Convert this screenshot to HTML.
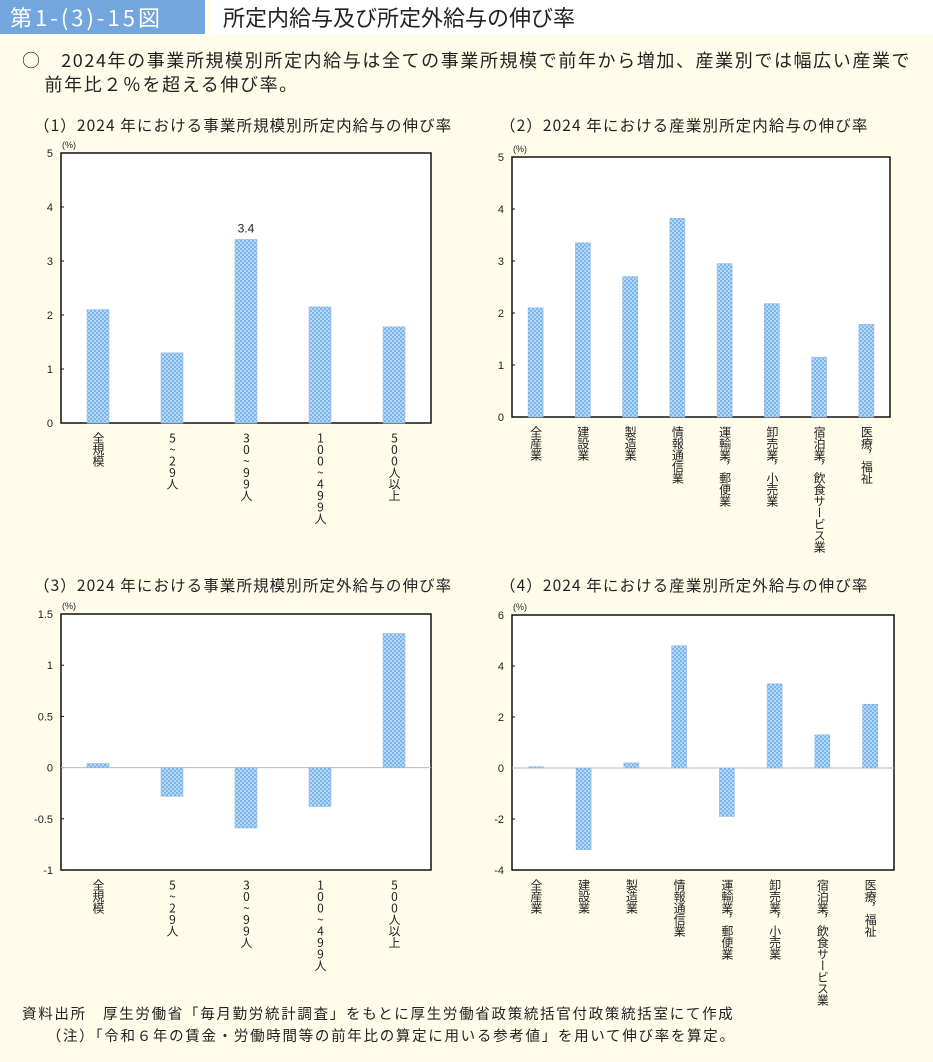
<!DOCTYPE html>
<html><head><meta charset="utf-8">
<style>
body{margin:0;width:933px;height:1062px;background:#fffdea;font-family:"Noto Sans CJK JP","Liberation Sans",sans-serif;color:#222;position:relative;overflow:hidden}
.hdr1{position:absolute;left:0;top:0;width:205px;height:34px;background:#72a6dc;color:#fff;font-size:22px;line-height:34px;padding-left:10px;box-sizing:border-box;letter-spacing:3px}
.hdr2{position:absolute;left:211px;top:0;width:722px;height:34px;background:#fff;font-size:22px;line-height:34px;padding-left:12px;box-sizing:border-box;color:#222}
.lead{position:absolute;left:22px;top:48px;font-size:18px;line-height:24px;white-space:nowrap;letter-spacing:1.6px}
.ct{position:absolute;font-size:15.5px;white-space:nowrap;letter-spacing:1.1px}
.src{position:absolute;left:22px;top:1003px;font-size:14.5px;line-height:22px;white-space:nowrap;letter-spacing:1.7px}
.xl{position:absolute;writing-mode:vertical-rl;text-orientation:upright;font-size:12px;line-height:14px;width:14px;margin-left:-7px;letter-spacing:-0.5px}
svg{position:absolute;left:0;top:0}
</style></head><body>
<div class="hdr1">第1-(3)-15図</div>
<div class="hdr2">所定内給与及び所定外給与の伸び率</div>
<div class="lead">○　2024年の事業所規模別所定内給与は全ての事業所規模で前年から増加、産業別では幅広い産業で<br>&nbsp;&nbsp;&nbsp;&nbsp;前年比２％を超える伸び率。</div>
<div class="ct" style="left:34px;top:114px">（1）2024 年における事業所規模別所定内給与の伸び率</div>
<div class="ct" style="left:500px;top:114px">（2）2024 年における産業別所定内給与の伸び率</div>
<div class="ct" style="left:34px;top:574px">（3）2024 年における事業所規模別所定外給与の伸び率</div>
<div class="ct" style="left:500px;top:574px">（4）2024 年における産業別所定外給与の伸び率</div>
<div class="src">資料出所　厚生労働省「毎月勤労統計調査」をもとに厚生労働省政策統括官付政策統括室にて作成<br>&nbsp;&nbsp;&nbsp;&nbsp;&nbsp;（注）「令和６年の賃金・労働時間等の前年比の算定に用いる参考値」を用いて伸び率を算定。</div>
<svg id="svg" width="933" height="1062" xmlns="http://www.w3.org/2000/svg">
<defs><pattern id="pat" width="4" height="4" patternUnits="userSpaceOnUse"><rect width="4" height="4" fill="#b4d8f6"/><circle cx="1" cy="1" r="0.85" fill="#4a98e6"/><circle cx="3" cy="3" r="0.85" fill="#4a98e6"/></pattern></defs>
</svg>
<script>
const sizeCats=["全規模","5~29人","30~99人","100~499人","500人以上"];
const indCats=["全産業","建設業","製造業","情報通信業","運輸業，郵便業","卸売業，小売業","宿泊業，飲食サービス業","医療，福祉"];
const v1=[2.1,1.3,3.4,2.15,1.78];
const v2=[2.1,3.35,2.7,3.82,2.95,2.18,1.15,1.78];
const v3=[0.04,-0.28,-0.59,-0.38,1.31];
const v4=[0.05,-3.2,0.2,4.8,-1.9,3.3,1.3,2.5];
const t1=[0,1,2,3,4,5];
const t3=[-1,-0.5,0,0.5,1,1.5];
const t4=[-4,-2,0,2,4,6];
const NS="http://www.w3.org/2000/svg";
const svg=document.getElementById('svg');
function mk(tag,a){const e=document.createElementNS(NS,tag);for(const k in a)e.setAttribute(k,a[k]);svg.appendChild(e);return e;}
function chart(id,cats,vals,ticks,L,R,T,B,bw,label){
  const mn=ticks[0],mx=ticks[ticks.length-1];
  const y=v=>B-(v-mn)/(mx-mn)*(B-T);
  const n=cats.length,step=(R-L)/n;
  const x=i=>L+step*(i+0.5);
  let r=mk('rect',{x:L,y:T,width:R-L,height:B-T,fill:'#fff',stroke:'#111','stroke-width':1.5});
  
  ticks.forEach(t=>{let tx=mk('text',{x:L-8,y:y(t)+4,'text-anchor':'end','font-size':11,fill:'#222','font-family':'Liberation Sans'});tx.textContent=t;
    
    mk('line',{x1:L,x2:L+3,y1:y(t),y2:y(t),stroke:'#111'});});
  let u=mk('text',{x:L+1,y:T-5,'font-size':9,fill:'#222','font-family':'Liberation Sans'});u.textContent='(%)';
  
  if(mn<0){let zl=mk('line',{x1:L,x2:R,y1:y(0),y2:y(0),stroke:'#bbb','stroke-width':1});}
  vals.forEach((v,i)=>{const y0=y(0),y1=y(v);
    let b=mk('rect',{x:x(i)-bw/2,y:Math.min(y0,y1),width:bw,height:Math.abs(y1-y0),fill:'url(#pat)',stroke:'#9ab8d6','stroke-width':0.6});
    
    const d=document.createElement('div');d.className='xl';d.style.left=x(i)+'px';d.style.top=(B+9)+'px';
    d.textContent=cats[i];
    
    
    document.body.appendChild(d);
    if(label===i){let lt=mk('text',{x:x(i),y:y1-7,'text-anchor':'middle','font-size':12,fill:'#222','font-family':'Liberation Sans'});lt.textContent=v;
      }
  });
}
chart('chart1',sizeCats,v1,t1,61,431,153,423,22,2);
chart('chart2',indCats,v2,t1,512,890,157,417,15,-1);
chart('chart3',sizeCats,v3,t3,61,431,614,870,22,-1);
chart('chart4',indCats,v4,t4,512,894,615,870,15,-1);
</script>
</body></html>
